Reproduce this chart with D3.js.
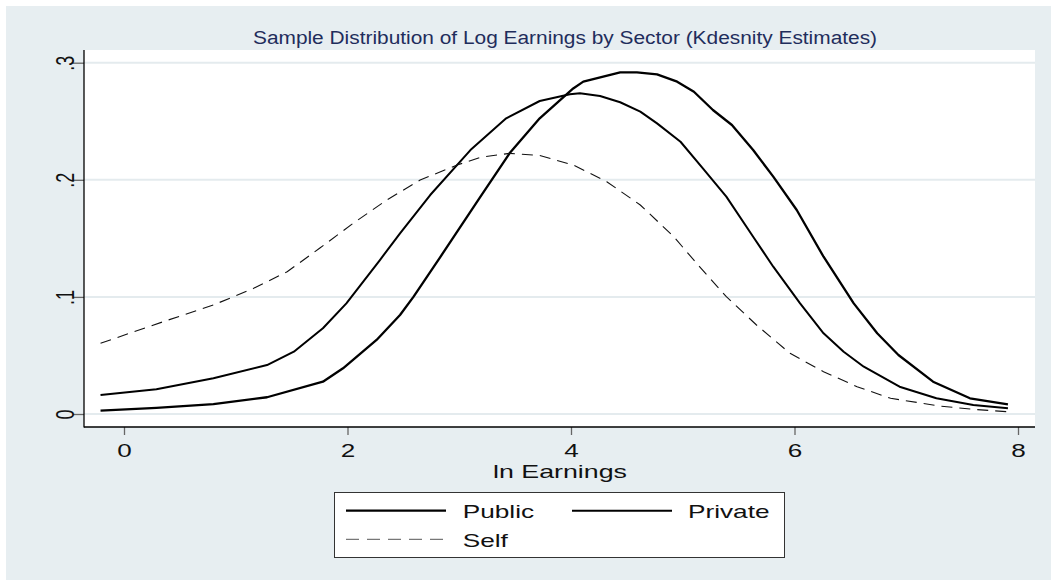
<!DOCTYPE html>
<html>
<head>
<meta charset="utf-8">
<script src="https://cdn.jsdelivr.net/npm/d3@7"></script>
<style>
  html, body { margin: 0; padding: 0; background: #ffffff; }
  svg { display: block; font-family: "Liberation Sans", Arial, sans-serif; }
</style>
</head>
<body>
<script>
// ---------------- data ----------------
const titleText = "Sample Distribution of Log Earnings by Sector (Kdesnity Estimates)";
const xAxisTitle = "ln Earnings";
const xTickValues = [0, 2, 4, 6, 8];
const xTickLabels = ["0", "2", "4", "6", "8"];
const yTickValues = [0, 0.1, 0.2, 0.3];
const yTickLabels = ["0", ".1", ".2", ".3"];
const seriesNames = ["Public", "Private", "Self"];

const publicX = [-0.21, 0.29, 0.80, 1.28, 1.78, 1.96, 2.26, 2.47, 2.59, 2.83, 3.19, 3.45, 3.72, 4.02, 4.11, 4.44, 4.59, 4.77, 4.95, 5.10, 5.27, 5.44, 5.63, 5.81, 6.02, 6.26, 6.53, 6.74, 6.93, 7.24, 7.57, 7.91];
const publicY = [0.0028, 0.0052, 0.0085, 0.0143, 0.0276, 0.0390, 0.0632, 0.0845, 0.1000, 0.1340, 0.1856, 0.2226, 0.2525, 0.2780, 0.2838, 0.2918, 0.2918, 0.2900, 0.2838, 0.2752, 0.2596, 0.2468, 0.2254, 0.2027, 0.1742, 0.1343, 0.0945, 0.0689, 0.0504, 0.0276, 0.0134, 0.0083];

const privateX = [-0.21, 0.29, 0.80, 1.28, 1.52, 1.78, 1.99, 2.29, 2.47, 2.74, 3.10, 3.42, 3.72, 3.99, 4.08, 4.26, 4.44, 4.62, 4.77, 4.98, 5.18, 5.39, 5.63, 5.81, 6.05, 6.26, 6.44, 6.62, 6.94, 7.27, 7.60, 7.91];
const privateY = [0.0162, 0.0211, 0.0305, 0.0418, 0.0532, 0.0732, 0.0945, 0.1315, 0.1543, 0.1870, 0.2254, 0.2525, 0.2673, 0.2730, 0.2739, 0.2716, 0.2662, 0.2582, 0.2482, 0.2325, 0.2098, 0.1856, 0.1514, 0.1258, 0.0945, 0.0689, 0.0532, 0.0404, 0.0233, 0.0134, 0.0077, 0.0049];

const selfX = [-0.21, 0.35, 0.80, 1.16, 1.46, 1.75, 2.05, 2.35, 2.65, 2.98, 3.19, 3.45, 3.72, 4.02, 4.32, 4.62, 4.92, 5.15, 5.39, 5.66, 5.96, 6.26, 6.56, 6.86, 7.30, 7.60, 7.90];
const selfY = [0.0604, 0.0788, 0.0931, 0.1073, 0.1215, 0.1415, 0.1628, 0.1827, 0.1998, 0.2126, 0.2192, 0.2226, 0.2207, 0.2126, 0.1984, 0.1785, 0.1514, 0.1258, 0.1002, 0.0760, 0.0518, 0.0361, 0.0233, 0.0134, 0.0068, 0.0040, 0.0020];

// ---------------- layout ----------------
const W = 1051, H = 580;
const plot = { left: 84, right: 1035, top: 50, bottom: 427 };
const bg = "#e7eef1";
const fontStack = '"Liberation Sans", Arial, sans-serif';

const svg = d3.select("body").append("svg").attr("width", W).attr("height", H);

svg.append("rect").attr("x", 0).attr("y", 0).attr("width", W).attr("height", H).attr("fill", "#ffffff");
svg.append("rect").attr("x", 6).attr("y", 6).attr("width", W - 6).attr("height", H - 6).attr("fill", bg);

const x = d3.scaleLinear().domain([0, 8]).range([124, 1018]);
const y = d3.scaleLinear().domain([0, 0.3]).range([414, 62.7]);

// plot region
svg.append("rect")
  .attr("x", plot.left).attr("y", plot.top)
  .attr("width", plot.right - plot.left).attr("height", plot.bottom - plot.top)
  .attr("fill", "#ffffff");

// grid lines
svg.append("g").selectAll("line").data(yTickValues).join("line")
  .attr("x1", plot.left).attr("x2", plot.right)
  .attr("y1", d => y(d)).attr("y2", d => y(d))
  .attr("stroke", "#e4ebee").attr("stroke-width", 2);

// helper for horizontally stretched text
function stretched(parent, px, py, str, size, sx, anchor, fill, rotate) {
  const g = parent.append("g")
    .attr("transform", `translate(${px},${py}) scale(${sx},1)` + (rotate ? " rotate(-90)" : ""));
  return g.append("text")
    .attr("x", 0).attr("y", 0)
    .attr("text-anchor", anchor)
    .attr("font-size", size)
    .attr("font-family", fontStack)
    .attr("fill", fill)
    .text(str);
}

// x axis
const xAxis = d3.axisBottom(x)
  .tickValues(xTickValues)
  .tickFormat((d, i) => xTickLabels[i])
  .tickSize(8)
  .tickSizeOuter(0);
const gx = svg.append("g").attr("transform", `translate(0,${plot.bottom})`).call(xAxis);
gx.select(".domain").remove();
gx.selectAll(".tick line").attr("stroke", "#666").attr("stroke-width", 1.3);
gx.selectAll(".tick text")
  .attr("x", 0).attr("y", 30).attr("dy", null)
  .attr("font-size", 18).attr("font-family", fontStack).attr("fill", "#111")
  .attr("transform", "scale(1.45,1)");

// y axis
const yAxis = d3.axisLeft(y)
  .tickValues(yTickValues)
  .tickFormat((d, i) => yTickLabels[i])
  .tickSize(11)
  .tickSizeOuter(0);
const gy = svg.append("g").attr("transform", `translate(${plot.left},0)`).call(yAxis);
gy.select(".domain").remove();
gy.selectAll(".tick line").attr("stroke", "#666").attr("stroke-width", 1.3);
gy.selectAll(".tick text")
  .attr("x", 0).attr("y", 0).attr("dy", null)
  .attr("text-anchor", "middle")
  .attr("font-size", 18).attr("font-family", fontStack).attr("fill", "#111")
  .attr("transform", "translate(-10,0) scale(1.45,1) rotate(-90)");

// axis lines
svg.append("line").attr("x1", plot.left).attr("x2", plot.left)
  .attr("y1", plot.top).attr("y2", plot.bottom + 0.5)
  .attr("stroke", "#000").attr("stroke-width", 1.3);
svg.append("line").attr("x1", plot.left).attr("x2", plot.right)
  .attr("y1", plot.bottom).attr("y2", plot.bottom)
  .attr("stroke", "#000").attr("stroke-width", 1.3);

// curves
const series = [
  { name: seriesNames[0], xs: publicX, ys: publicY, width: 2.3, dash: null, color: "#000" },
  { name: seriesNames[1], xs: privateX, ys: privateY, width: 2.0, dash: null, color: "#000" },
  { name: seriesNames[2], xs: selfX, ys: selfY, width: 1.1, dash: "11,7", color: "#111" }
];
const line = d3.line().x(d => x(d[0])).y(d => y(d[1]));
svg.append("g").selectAll("path").data(series).join("path")
  .attr("d", s => line(s.xs.map((v, i) => [v, s.ys[i]])))
  .attr("fill", "none")
  .attr("stroke", s => s.color)
  .attr("stroke-width", s => s.width)
  .attr("stroke-dasharray", s => s.dash)
  .attr("stroke-linejoin", "round");

// title
stretched(svg, 565, 44, titleText, 18, 1.16, "middle", "#1f2d5c", false);
// x axis title
stretched(svg, 560, 478, xAxisTitle, 19, 1.41, "middle", "#111", false);

// legend
const lg = svg.append("g");
lg.append("rect").attr("x", 334.5).attr("y", 492.5).attr("width", 450).attr("height", 65)
  .attr("fill", "#ffffff").attr("stroke", "#333").attr("stroke-width", 1);
const legendItems = [
  { s: series[0], lx: 346, ly: 510.7, tx: 462.7, ty: 518, stroke: "#000", w: 2.3, dash: null },
  { s: series[1], lx: 572, ly: 510.7, tx: 688, ty: 518, stroke: "#000", w: 2.0, dash: null },
  { s: series[2], lx: 346, ly: 539.3, tx: 462.7, ty: 546.7, stroke: "#777", w: 1.3, dash: "13,8" }
];
legendItems.forEach(it => {
  lg.append("line").attr("x1", it.lx).attr("x2", it.lx + 100)
    .attr("y1", it.ly).attr("y2", it.ly)
    .attr("stroke", it.stroke).attr("stroke-width", it.w)
    .attr("stroke-dasharray", it.dash);
  stretched(lg, it.tx, it.ty, it.s.name, 19, 1.38, "start", "#111", false);
});
</script>
</body>
</html>
